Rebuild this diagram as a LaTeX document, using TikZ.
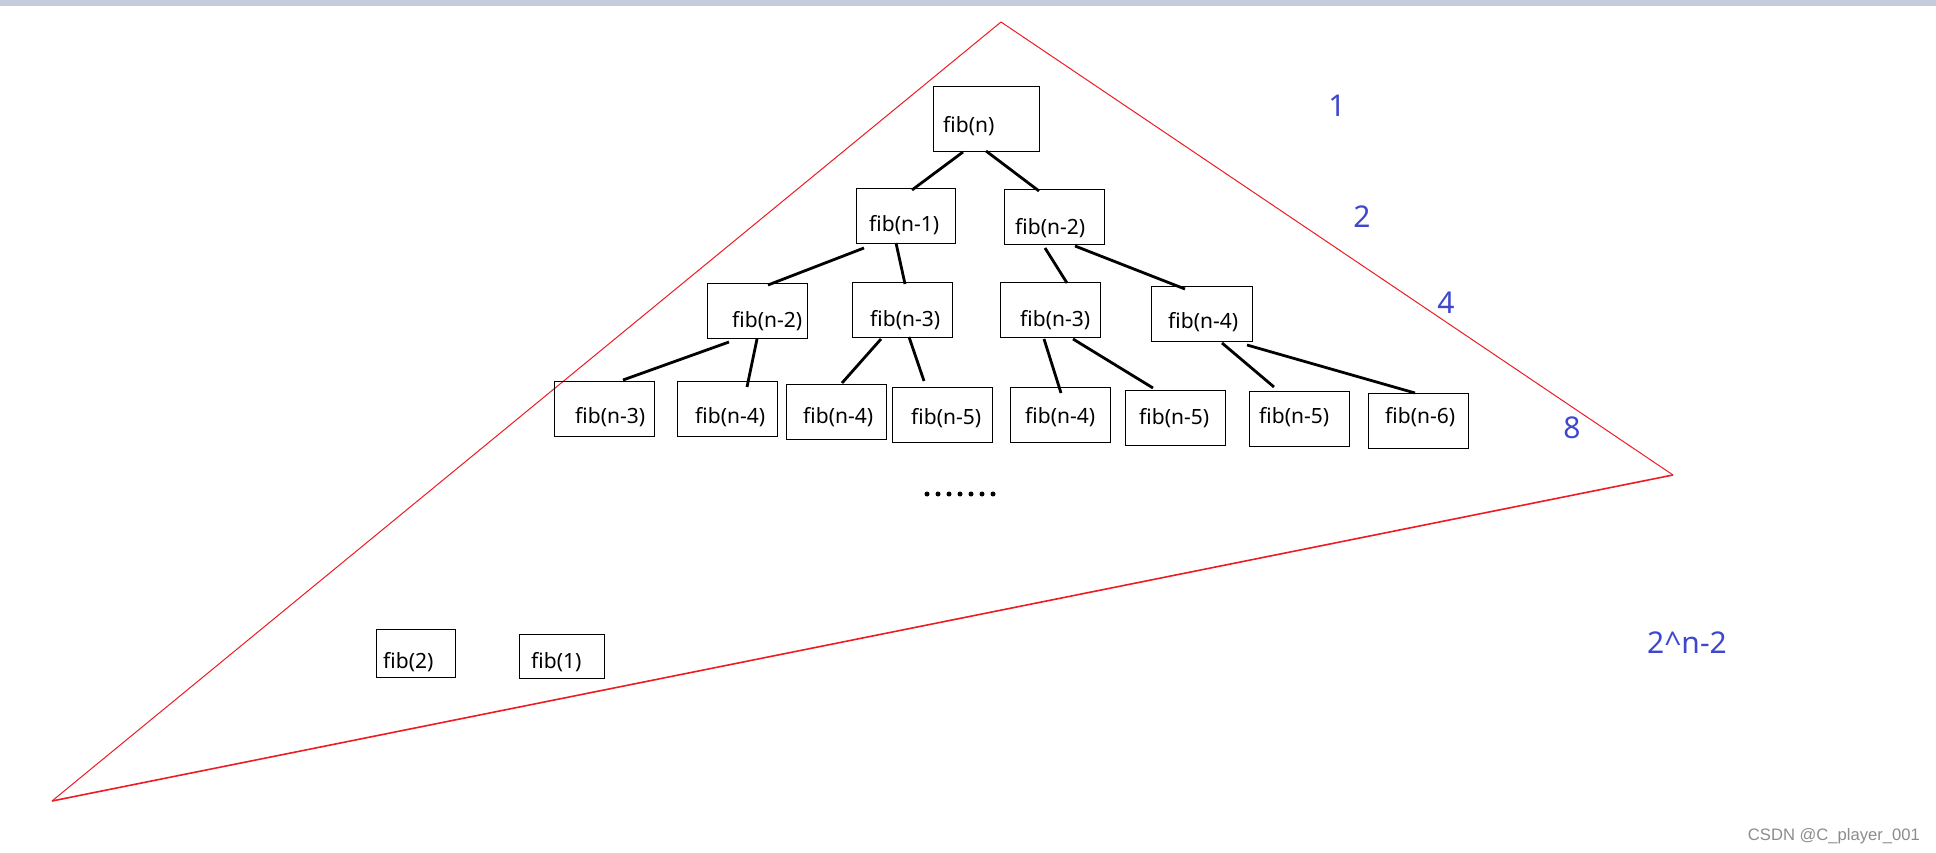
\documentclass[tikz,border=0pt]{standalone}
\usepackage{fontspec}
\setmainfont{Noto Sans}
\newfontfamily\wmfont{Liberation Sans}
\definecolor{paintred}{HTML}{ED1C24}
\definecolor{paintblue}{HTML}{3F48CC}
\definecolor{barcol}{RGB}{197,204,219}
\definecolor{wmgray}{RGB}{140,140,140}
\begin{document}
\begin{tikzpicture}[x=1pt,y=-1pt,
  box/.style={draw=black,line width=1pt,rectangle,inner sep=0pt,outer sep=0pt,anchor=north west},
  lbl/.style={inner sep=0pt,anchor=base west,font=\fontsize{21}{24}\selectfont},
  num/.style={inner sep=0pt,anchor=base,text=paintblue,font=\fontsize{30}{34}\selectfont},
  edge/.style={draw=black,line width=2.8pt},
  tri/.style={draw=paintred,line width=1pt},
  dot/.style={fill=black,circle,inner sep=0pt,minimum size=5pt}]
\useasboundingbox (0,0) rectangle (1936,853);
\fill[barcol] (0,0) rectangle (1936,6);
% triangle
\coordinate (apex) at (1001,22);
\coordinate (rv) at (1673,475);
\coordinate (blv) at (52,801);
\draw[tri] (apex) -- (rv);
\draw[tri,line width=1.6pt] (rv) -- (blv);
\draw[tri] (blv) -- (apex);
% level 0
\node[box,minimum width=106pt,minimum height=65pt] (fn) at (933,87) {};
% level 1
\node[box,minimum width=99pt,minimum height=55pt] (fn1) at (856,189) {};
\node[box,minimum width=100pt,minimum height=55pt] (fn2) at (1004,190) {};
% level 2
\node[box,minimum width=100pt,minimum height=55pt] (a1) at (707,283) {};
\node[box,minimum width=100pt,minimum height=55pt] (a2) at (852,282) {};
\node[box,minimum width=100pt,minimum height=55pt] (a3) at (1000,282) {};
\node[box,minimum width=101pt,minimum height=55pt] (a4) at (1151,286) {};
% level 3
\node[box,minimum width=100pt,minimum height=55pt] (b1) at (554,381) {};
\node[box,minimum width=100pt,minimum height=55pt] (b2) at (677,381) {};
\node[box,minimum width=100pt,minimum height=55pt] (b3) at (786,384) {};
\node[box,minimum width=100pt,minimum height=55pt] (b4) at (892,387) {};
\node[box,minimum width=100pt,minimum height=55pt] (b5) at (1010,387) {};
\node[box,minimum width=100pt,minimum height=55pt] (b6) at (1125,390) {};
\node[box,minimum width=100pt,minimum height=55pt] (b7) at (1249,391) {};
\node[box,minimum width=100pt,minimum height=55pt] (b8) at (1368,393) {};
% leaves
\node[box,minimum width=79pt,minimum height=48pt] (c1) at (376,629) {};
\node[box,minimum width=85pt,minimum height=44pt] (c2) at (519,634) {};
% labels
\node[lbl] (tfn) at (943,133) {fib(n)};
\node[lbl] (tfn1) at (869,232) {fib(n-1)};
\node[lbl] (tfn2) at (1015,235) {fib(n-2)};
\node[lbl] (ta1) at (732,327) {fib(n-2)};
\node[lbl] (ta2) at (870,326) {fib(n-3)};
\node[lbl] (ta3) at (1020,326) {fib(n-3)};
\node[lbl] (ta4) at (1168,328) {fib(n-4)};
\node[lbl] (tb1) at (575,423) {fib(n-3)};
\node[lbl] (tb2) at (695,423) {fib(n-4)};
\node[lbl] (tb3) at (803,423) {fib(n-4)};
\node[lbl] (tb4) at (911,424) {fib(n-5)};
\node[lbl] (tb5) at (1025,423) {fib(n-4)};
\node[lbl] (tb6) at (1139,424) {fib(n-5)};
\node[lbl] (tb7) at (1259,423) {fib(n-5)};
\node[lbl] (tb8) at (1385,423) {fib(n-6)};
\node[lbl] (tc1) at (383,668) {fib(2)};
\node[lbl] (tc2) at (531,668) {fib(1)};
% edges
\draw[edge] ([xshift=30pt]fn.south west) -- ([xshift=56pt,yshift=-1pt]fn1.north west);
\draw[edge] ([xshift=53pt,yshift=1pt]fn.south west) -- ([xshift=35pt,yshift=-1pt]fn2.north west);
\draw[edge] ([xshift=8pt,yshift=-4pt]fn1.south west) -- ([xshift=61pt,yshift=-2pt]a1.north west);
\draw[edge] ([xshift=40pt,yshift=1pt]fn1.south west) -- ([xshift=53pt,yshift=-2pt]a2.north west);
\draw[edge] ([xshift=41pt,yshift=-3pt]fn2.south west) -- ([xshift=67pt,yshift=-1pt]a3.north west);
\draw[edge] ([xshift=71pt,yshift=-1pt]fn2.south west) -- ([xshift=34pt,yshift=-3pt]a4.north west);
\draw[edge] ([xshift=22pt,yshift=-4pt]a1.south west) -- ([xshift=69pt,yshift=1pt]b1.north west);
\draw[edge] ([xshift=50pt,yshift=-1pt]a1.south west) -- ([xshift=70pt,yshift=-6pt]b2.north west);
\draw[edge] ([xshift=29pt,yshift=-2pt]a2.south west) -- ([xshift=56pt,yshift=1pt]b3.north west);
\draw[edge] ([xshift=57pt]a2.south west) -- ([xshift=32pt,yshift=6pt]b4.north west);
\draw[edge] ([xshift=44pt,yshift=-2pt]a3.south west) -- ([xshift=51pt,yshift=-6pt]b5.north west);
\draw[edge] ([xshift=73pt,yshift=-2pt]a3.south west) -- ([xshift=28pt,yshift=2pt]b6.north west);
\draw[edge] ([xshift=71pt,yshift=-2pt]a4.south west) -- ([xshift=25pt,yshift=4pt]b7.north west);
\draw[edge] ([xshift=96pt,yshift=-4pt]a4.south west) -- ([xshift=47pt]b8.north west);
% dots
\foreach \k in {0,...,6} {\node[dot] (d\k) at (927+11*\k,494) {};}
% level counts
\node[num] (n1) at (1337,117) {1};
\node[num] (n2) at (1362,228) {2};
\node[num] (n4) at (1446,313) {4};
\node[num] (n8) at (1572,438) {8};
\node[num] (nn) at (1687,653) {2\^{}n-2};
% watermark
\node[inner sep=0pt,anchor=base east,text=wmgray,font=\wmfont\fontsize{16.6}{19}\selectfont] (wm) at (1920,840) {CSDN @C\_player\_001};
\end{tikzpicture}
\end{document}
